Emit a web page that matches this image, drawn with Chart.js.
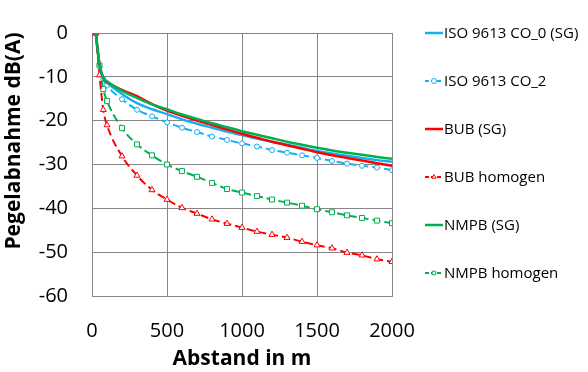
<!DOCTYPE html>
<html>
<head>
<meta charset="utf-8">
<script src="https://cdn.jsdelivr.net/npm/chart.js@4"></script>
<style>
  html, body { margin: 0; padding: 0; background: #fff; }
  #wrap { width: 588px; height: 372px; }
</style>
</head>
<body>
<div id="wrap"><canvas id="chart"></canvas></div>
<script>
// distances in m (x axis)
const distance = [25, 50, 75, 100, 200, 300, 400, 500, 600, 700, 800, 900, 1000,
  1100, 1200, 1300, 1400, 1500, 1600, 1700, 1800, 1900, 2000];

// level reduction in dB(A)
const iso0 = [0, -7.5, -10.4, -11.3, -13.9, -16.0, -17.4, -18.5, -19.7, -20.7, -21.6, -22.5, -23.3,
  -24.1, -24.8, -25.5, -26.2, -26.9, -27.5, -28.0, -28.5, -29.0, -29.4];
const iso2 = [0, -7.5, -10.5, -12.0, -15.1, -17.5, -19.0, -20.4, -21.6, -22.6, -23.6, -24.4, -25.2,
  -25.9, -26.7, -27.3, -27.9, -28.5, -29.2, -29.8, -30.3, -30.7, -31.3];
const bubSG = [0, -7.2, -10.3, -11.1, -13.0, -14.4, -16.2, -17.7, -18.9, -20.0, -21.0, -22.0, -23.0,
  -23.9, -24.8, -25.6, -26.4, -27.2, -27.9, -28.5, -29.1, -29.7, -30.3];
const bubHom = [0, -9.6, -17.5, -21.0, -28.1, -32.5, -35.8, -38.0, -39.9, -41.2, -42.5, -43.5, -44.4,
  -45.3, -46.0, -46.7, -47.6, -48.4, -49.1, -50.1, -50.7, -51.6, -52.2];
const nmpbSG = [0, -7.0, -10.2, -11.0, -13.2, -14.8, -16.3, -17.4, -18.6, -19.6, -20.6, -21.5, -22.4,
  -23.2, -24.0, -24.8, -25.5, -26.2, -26.8, -27.3, -27.8, -28.3, -28.7];
const nmpbHom = [0, -7.4, -12.8, -15.5, -21.7, -25.4, -27.9, -30.0, -31.5, -32.8, -34.2, -35.6, -36.4,
  -37.2, -38.0, -38.7, -39.4, -40.2, -40.9, -41.6, -42.2, -42.8, -43.4];

const seriesNames = ["ISO 9613 CO_0 (SG)", "ISO 9613 CO_2", "BUB (SG)", "BUB homogen", "NMPB (SG)", "NMPB homogen"];
const xTicks = [0, 500, 1000, 1500, 2000];
const yTicks = [0, -10, -20, -30, -40, -50, -60];
const yTitle = "Pegelabnahme dB(A)";

const BLUE = "#16b0ef", RED = "#ff0000", GREEN = "#00b050";
const FONT = "'Open Sans', sans-serif";
const GRID = "#868686";

const pts = (vals) => vals.map((v, i) => ({ x: distance[i], y: v }));

function solid(label, vals, color, order) {
  return {
    label, data: pts(vals), borderColor: color, backgroundColor: color,
    borderWidth: 2.5, pointRadius: 0, cubicInterpolationMode: "monotone", order,
  };
}
function dashed(label, vals, color, style, radius, order) {
  return {
    label, data: pts(vals), borderColor: color, backgroundColor: "#fff",
    borderWidth: 2, borderDash: [8, 4], pointStyle: style, pointRadius: radius,
    pointBorderColor: color, pointBackgroundColor: "#fff", pointBorderWidth: 1,
    cubicInterpolationMode: "monotone", order,
  };
}

// legend + y title drawn by hand to match the original placement
const sideLegend = {
  id: "sideLegend",
  afterDraw(chart) {
    const ctx = chart.ctx;
    const x0 = 425, len = 18, top = 33, step = 48;
    chart.data.datasets.forEach((ds, i) => {
      const y = top + i * step;
      ctx.save();
      ctx.strokeStyle = ds.borderColor;
      ctx.lineWidth = ds.borderWidth;
      ctx.setLineDash(ds.borderDash ? [4, 2] : []);
      ctx.beginPath();
      ctx.moveTo(x0, y);
      ctx.lineTo(x0 + len, y);
      ctx.stroke();
      ctx.setLineDash([]);
      if (ds.pointRadius > 0) {
        ctx.fillStyle = "#fff";
        ctx.strokeStyle = ds.borderColor;
        ctx.lineWidth = 1;
        Chart.helpers.drawPoint(ctx, { pointStyle: ds.pointStyle, radius: 2.5, rotation: 0, borderWidth: 1 }, x0 + len / 2, y);
      }
      ctx.fillStyle = "#000";
      ctx.font = "15px " + FONT;
      ctx.textBaseline = "middle";
      ctx.textAlign = "left";
      ctx.fillText(ds.label, x0 + len + 1, y + 1);
      ctx.restore();
    });

    ctx.save();
    ctx.translate(14, 141);
    ctx.rotate(-Math.PI / 2);
    ctx.fillStyle = "#000";
    ctx.font = "bold 21px " + FONT;
    ctx.textAlign = "center";
    ctx.textBaseline = "middle";
    ctx.fillText(yTitle, 0, 0);
    ctx.restore();
  },
};

new Chart(document.getElementById("chart"), {
  type: "line",
  data: {
    datasets: [
      solid(seriesNames[0], iso0, BLUE, 2),
      dashed(seriesNames[1], iso2, BLUE, "circle", 2.5, 5),
      solid(seriesNames[2], bubSG, RED, 1),
      dashed(seriesNames[3], bubHom, RED, "triangle", 3.5, 3),
      solid(seriesNames[4], nmpbSG, GREEN, 0),
      dashed(seriesNames[5], nmpbHom, GREEN, "rect", 3.5, 4),
    ],
  },
  options: {
    responsive: true,
    maintainAspectRatio: false,
    animation: false,
    devicePixelRatio: 1,
    layout: { padding: { left: 0, right: 196, top: 9, bottom: 0 } },
    plugins: { legend: { display: false }, tooltip: { enabled: false } },
    scales: {
      x: {
        type: "linear", min: 0, max: 2000,
        afterBuildTicks: (s) => { s.ticks = xTicks.map((v) => ({ value: v })); },
        afterFit: (s) => { s.height = 76; },
        ticks: { font: { family: FONT, size: 20 }, color: "#000", padding: 23, maxRotation: 0,
          callback: (v) => String(v) },
        grid: { color: GRID, drawTicks: false },
        border: { color: GRID },
        title: { display: true, text: "Abstand in m", color: "#000", padding: 0,
          font: { family: FONT, size: 21, weight: "bold" } },
      },
      y: {
        type: "linear", min: -60, max: 0,
        afterBuildTicks: (s) => { s.ticks = yTicks.map((v) => ({ value: v })); },
        afterFit: (s) => { s.width = 92; },
        ticks: { font: { family: FONT, size: 20, lineHeight: 0.9 }, color: "#000", padding: 24,
          callback: (v) => String(v) },
        grid: { color: GRID, drawTicks: false },
        border: { color: GRID },
      },
    },
  },
  plugins: [sideLegend],
});
</script>
</body>
</html>
